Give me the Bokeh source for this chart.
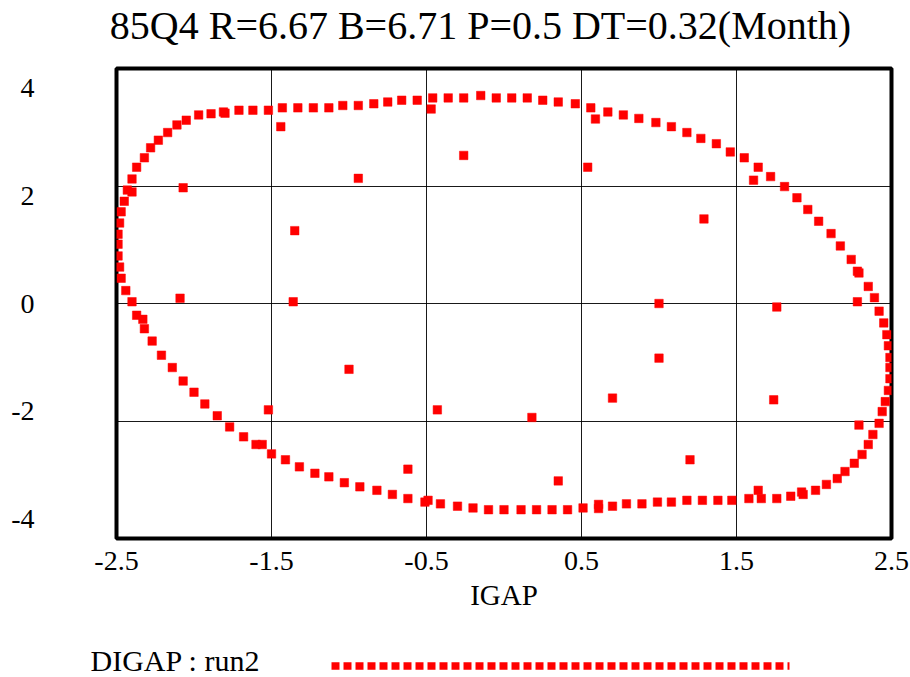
from bokeh.plotting import figure
from bokeh.layouts import column
from bokeh.models import FixedTicker, Range1d
from bokeh.core.properties import value
from bokeh.embed import file_html
from bokeh.resources import INLINE

TITLE = "85Q4 R=6.67 B=6.71 P=0.5 DT=0.32(Month)"
X_LABEL = "IGAP"
SERIES_NAME = "DIGAP : run2"

x_ticks = [-2.5, -1.5, -0.5, 0.5, 1.5, 2.5]
x_tick_labels = ["-2.5", "-1.5", "-0.5", "0.5", "1.5", "2.5"]
y_ticks = [4, 2, 0, -2, -4]
y_tick_labels = ["4", "2", "0", "-2", "-4"]
x_grid = [-1.5, -0.5, 0.5, 1.5]
y_grid = [-2, 0, 2]

# DIGAP (y) against IGAP (x): the trajectory loop
loop_igap = [
    -2.49, -2.49, -2.49, -2.48, -2.47, -2.45, -2.43, -2.40, -2.40, -2.37,
    -2.32, -2.28, -2.23, -2.17, -2.11, -2.05, -1.97, -1.89, -1.81, -1.80,
    -1.71, -1.62, -1.52, -1.43, -1.33, -1.23, -1.13, -1.04, -0.94, -0.84,
    -0.75, -0.66, -0.56, -0.46, -0.36, -0.26, -0.15, -0.05, 0.05, 0.15,
    0.25, 0.35, 0.46, 0.56, 0.67, 0.77, 0.87, 0.98, 1.08, 1.18,
    1.27, 1.37, 1.46, 1.55, 1.64, 1.72, 1.81, 1.89, 1.96, 2.03,
    2.11, 2.17, 2.24, 2.28, 2.29, 2.35, 2.39, 2.42, 2.45, 2.47,
    2.48, 2.49, 2.49, 2.49, 2.48, 2.46, 2.44, 2.42, 2.38, 2.35,
    2.31, 2.26, 2.20, 2.15, 2.08, 2.01, 1.93, 1.92, 1.85, 1.76,
    1.66, 1.58, 1.47, 1.38, 1.28, 1.18, 1.08, 0.99, 0.89, 0.79,
    0.70, 0.61, 0.61, 0.51, 0.41, 0.31, 0.21, 0.11, 0.00, -0.10,
    -0.20, -0.30, -0.41, -0.49, -0.51, -0.62, -0.72, -0.82, -0.93, -1.03,
    -1.13, -1.22, -1.32, -1.41, -1.50, -1.56, -1.60, -1.68, -1.77, -1.85,
    -1.93, -2.00, -2.07, -2.14, -2.21, -2.27, -2.32, -2.33, -2.37, -2.40,
    -2.44, -2.47, -2.48,
]
loop_digap = [
    0.81, 1.01, 1.18, 1.37, 1.56, 1.74, 1.93, 1.90, 2.12, 2.32,
    2.48, 2.65, 2.78, 2.91, 3.04, 3.12, 3.21, 3.23, 3.26, 3.24,
    3.29, 3.29, 3.29, 3.33, 3.33, 3.33, 3.33, 3.37, 3.37, 3.40,
    3.43, 3.46, 3.46, 3.50, 3.50, 3.50, 3.54, 3.50, 3.50, 3.50,
    3.46, 3.43, 3.40, 3.33, 3.26, 3.21, 3.15, 3.08, 3.01, 2.91,
    2.81, 2.72, 2.58, 2.48, 2.32, 2.16, 1.99, 1.80, 1.60, 1.40,
    1.19, 0.98, 0.75, 0.55, 0.52, 0.29, 0.10, -0.13, -0.33, -0.53,
    -0.72, -0.92, -1.09, -1.28, -1.48, -1.67, -1.84, -2.04, -2.23, -2.40,
    -2.57, -2.72, -2.86, -2.98, -3.08, -3.18, -3.25, -3.21, -3.28, -3.32,
    -3.32, -3.32, -3.35, -3.35, -3.35, -3.35, -3.38, -3.38, -3.41, -3.41,
    -3.45, -3.42, -3.49, -3.48, -3.51, -3.51, -3.51, -3.51, -3.51, -3.51,
    -3.48, -3.45, -3.41, -3.35, -3.38, -3.32, -3.25, -3.18, -3.12, -3.05,
    -2.95, -2.89, -2.78, -2.66, -2.56, -2.40, -2.40, -2.27, -2.10, -1.91,
    -1.71, -1.51, -1.32, -1.09, -0.88, -0.64, -0.43, -0.27, -0.20, 0.03,
    0.22, 0.43, 0.62,
]
# isolated points inside the loop
inner_igap = [
    -1.44, -2.07, -1.35, -2.09, -1.36, -1.52, -1.00, -0.94, -0.47, -0.26,
    0.54, 0.59, 1.61, 1.29, 1.00, -0.43, 0.18, 0.35, -0.62, 0.70,
    1.20, 1.74, 1.76, 2.28, 1.00, 2.29, 1.64,
]
inner_digap = [
    3.01, 1.97, 1.24, 0.09, 0.03, -1.81, -1.12, 2.13, 3.31, 2.52,
    2.32, 3.14, 2.10, 1.44, 0.00, -1.81, -1.94, -3.02, -2.82, -1.61,
    -2.66, -1.64, -0.06, 0.03, -0.93, -2.07, -3.18,
]

igap = loop_igap + inner_igap
digap = loop_digap + inner_digap

FONT = "Liberation Serif"
RED = "#ff0000"
W = 910


def no_align(f):
    try:
        f.frame_align = False
    except Exception:
        pass
    return f


def strip(height):
    """A blank figure whose data units are pixels, y measured from its top."""
    f = figure(width=W, height=height, x_range=Range1d(0, W), y_range=Range1d(height, 0),
               output_backend="svg", toolbar_location=None,
               min_border=0, min_border_left=0, min_border_right=0,
               min_border_top=0, min_border_bottom=0)
    f.axis.visible = False
    f.xgrid.visible = False
    f.ygrid.visible = False
    f.outline_line_color = None
    return no_align(f)


# title strip
top = strip(64)
top.text(x=[480], y=[25], text=[TITLE], text_font=value(FONT),
         text_font_size="40px", text_baseline="middle", text_align="center",
         text_color="black")

# main chart
p = figure(width=W, height=564,
           x_range=Range1d(-2.5, 2.5), y_range=Range1d(-4, 4),
           output_backend="svg", toolbar_location=None,
           min_border_left=116, min_border_right=19,
           min_border_top=4, min_border_bottom=90)
no_align(p)

p.scatter(igap, digap, marker="square", size=8.5,
          fill_color=RED, line_color=RED, line_width=0.5)

p.outline_line_color = "black"
p.outline_line_width = 4
p.outline_line_alpha = 1.0

p.xgrid.ticker = FixedTicker(ticks=x_grid)
p.ygrid.ticker = FixedTicker(ticks=y_grid)
for g in (p.xgrid, p.ygrid):
    g.grid_line_color = "black"
    g.grid_line_width = 1
    g.grid_line_alpha = 0.9

xa = p.xaxis[0]
xa.ticker = FixedTicker(ticks=x_ticks)
xa.major_label_overrides = {t: s for t, s in zip(x_ticks, x_tick_labels)}
xa.axis_label = X_LABEL

# Vensim style: y labels spread slightly inside the frame
inset = 0.915
y_pos = [t * inset for t in y_ticks]
ya = p.yaxis[0]
ya.ticker = FixedTicker(ticks=y_pos)
ya.major_label_overrides = {t: s for t, s in zip(y_pos, y_tick_labels)}
ya.major_label_standoff = 82

for ax in (xa, ya):
    ax.axis_line_color = None
    ax.major_tick_line_color = None
    ax.minor_tick_line_color = None
    ax.major_tick_out = 0
    ax.major_tick_in = 0
    ax.major_label_text_font = FONT
    ax.major_label_text_font_size = "28px"
    ax.major_label_text_color = "black"
    ax.axis_label_text_font = FONT
    ax.axis_label_text_font_size = "29px"
    ax.axis_label_text_font_style = "normal"
    ax.axis_label_text_color = "black"

xa.major_label_standoff = 13
xa.axis_label_standoff = 6

# legend strip: series name, then a sample of the dotted marker line
leg = strip(49)
leg.text(x=[90], y=[32], text=[SERIES_NAME], text_font=value(FONT),
         text_font_size="30px", text_baseline="middle", text_align="left",
         text_color="black")
leg.line(x=[331, 789], y=[37.5, 37.5], line_color=RED, line_width=7.5,
         line_dash="8 4", line_cap="butt")

layout = column(top, p, leg, spacing=0)
open("out.html", "w").write(file_html(layout, INLINE))
